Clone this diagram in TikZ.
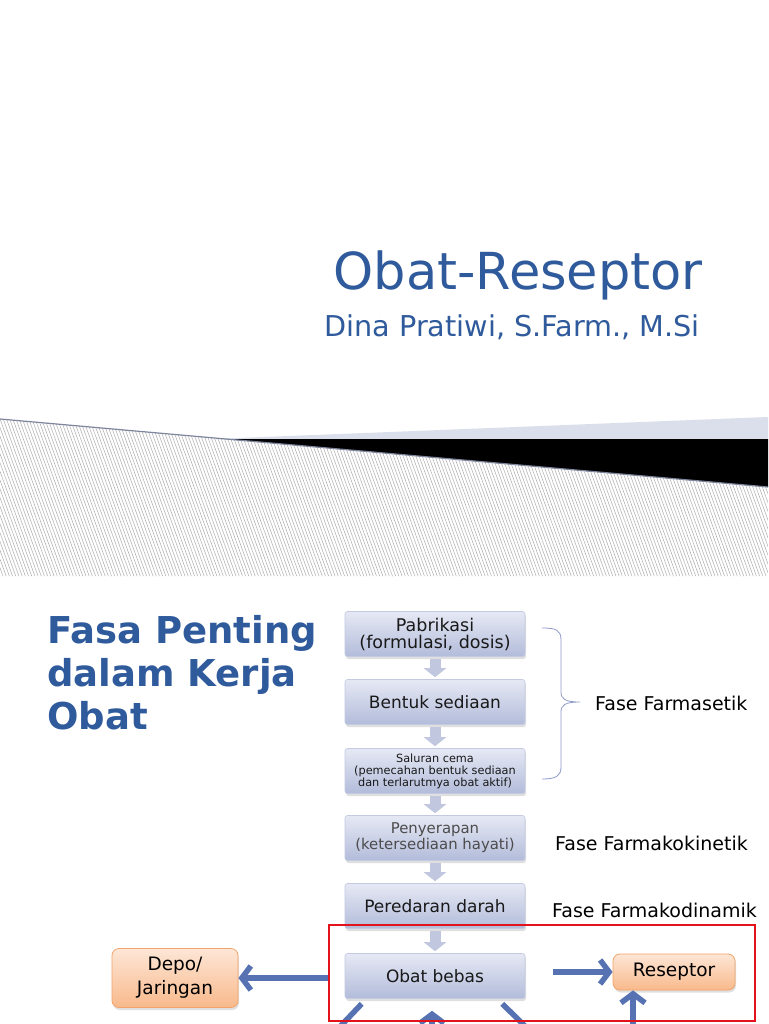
\documentclass[tikz,border=0pt]{standalone}
\usepackage{fontspec}
\setmainfont{DejaVu Sans}
\usepackage{xcolor}
\definecolor{slideblue}{HTML}{2F5A9B}
\definecolor{boxtop}{HTML}{E6E9F4}
\definecolor{boxbot}{HTML}{B2BBDA}
\definecolor{boxrule}{HTML}{C3CAE2}
\definecolor{flowarr}{HTML}{C0C7DE}
\definecolor{fatblue}{HTML}{5672B2}
\definecolor{orgtop}{HTML}{FDE6D6}
\definecolor{orgbot}{HTML}{F8B98B}
\definecolor{orgrule}{HTML}{F2A46A}
\definecolor{bracecol}{HTML}{8E9BC8}
\definecolor{wedge}{HTML}{DADFEB}
\definecolor{hatchline}{HTML}{7D869C}
\definecolor{redframe}{HTML}{E3121B}
\usetikzlibrary{arrows.meta, calc, shadows, patterns.meta}
\newcommand{\fsz}[2]{\fontsize{#1}{#2}\selectfont}

\tikzset{
  stepbox/.style={draw=boxrule, line width=0.6pt, rounded corners=2.5pt,
    top color=boxtop, bottom color=boxbot, minimum width=180pt,
    minimum height=45pt, align=center, text=black!90, font=\fsz{17}{17},
    drop shadow={shadow xshift=1pt, shadow yshift=-2.5pt, opacity=0.25}},
  orgbox/.style={draw=orgrule, line width=0.8pt, rounded corners=7pt,
    top color=orgtop, bottom color=orgbot, align=center, text=black,
    font=\fsz{18.5}{24},
    drop shadow={shadow xshift=1pt, shadow yshift=-2.5pt, opacity=0.25}},
  downarr/.style={draw=flowarr, line width=11pt,
    -{Triangle[width=22pt,length=9pt]}, shorten <=2pt, shorten >=2pt},
  fatarrow/.style={fatblue, line width=5.5pt,
    -{Straight Barb[length=9pt,width=24pt]}},
  fatline/.style={fatblue, line width=5.5pt},
  phase/.style={font=\fsz{19}{21}, anchor=west, inner sep=0pt},
}

\begin{document}
\begin{tikzpicture}[x=1pt, y=-1pt]
  \useasboundingbox (0,0) rectangle (768,1024);
  \fill[white] (0,0) rectangle (768,1024);

  % slide 1: title
  \node[font=\fsz{51}{60}, text=slideblue, anchor=base east, inner sep=0pt]
    (title) at (703,289) {Obat-Reseptor};
  \node[font=\fsz{28.7}{32}, text=slideblue, anchor=base east, inner sep=0pt]
    (author) at (700,336) {Dina Pratiwi, S.Farm., M.Si};

  % slide 1: hatched band and wedges
  \fill[pattern={Lines[angle=110,distance=3pt,line width=0.5pt]},
    pattern color=gray!65] (0,419) -- (768,487) -- (768,576) -- (0,576) -- cycle;
  \fill[wedge] (213,439) -- (768,417) -- (768,439) -- cycle;
  \fill[black] (226,439) -- (768,439) -- (768,487) -- cycle;
  \draw[hatchline, line width=1.2pt] (0,419) -- (768,487);

  % slide 2: heading
  \foreach \t [count=\i] in {Fasa Penting, dalam Kerja, Obat} {
    \node[font=\bfseries\fsz{37}{43}, text=slideblue, anchor=base west,
      inner sep=0pt] (head\i) at (47,600+43*\i) {\t};
  }

  % flow column
  \node[stepbox, font=\fsz{17.5}{17}] (pabrik) at (435,634)
    {Pabrikasi\\(formulasi, dosis)};
  \node[stepbox] (bentuk) at (435,702) {Bentuk sediaan};
  \node[stepbox, font=\fsz{11.3}{12}] (saluran) at (435,771)
    {Saluran cema\\(pemecahan bentuk sediaan\\dan terlarutmya obat aktif)};
  \node[stepbox, font=\fsz{14.9}{16}, text=black!70] (serap) at (435,838)
    {Penyerapan\\(ketersediaan hayati)};
  \node[stepbox] (darah) at (435,906) {Peredaran darah};
  \node[stepbox] (obat) at (435,976) {Obat bebas};
  \foreach \a/\b in {pabrik/bentuk, bentuk/saluran, saluran/serap,
                     serap/darah, darah/obat} {
    \draw[downarr] (\a) -- (\b);
  }

  % side boxes
  \node[orgbox, minimum width=126pt, minimum height=59pt] (depo) at (175,978)
    {Depo/\\Jaringan};
  \node[orgbox, minimum width=122pt, minimum height=36pt] (resep) at (674,972)
    {Reseptor};

  % phase labels
  \draw[bracecol, line width=0.8pt] (542,628) .. controls (556,628) and (561,630) .. (561,640)
    -- (561,692) .. controls (561,699) and (565,702) .. (580,702)
    .. controls (565,702) and (561,705) .. (561,712)
    -- (561,767) .. controls (561,776) and (556,779) .. (542,779);
  \node[phase] (farmasetik) at (595,703) {Fase Farmasetik};
  \node[phase] (kinetik) at (555,843) {Fase Farmakokinetik};
  \node[phase] (dinamik) at (552,910) {Fase Farmakodinamik};

  % blue arrows
  \coordinate (upfoot) at (633,1040);
  \coordinate (midfoot) at (432,1040);
  \coordinate (lfoot) at (333,1034);
  \coordinate (rfoot) at (533,1034);
  \draw[fatarrow, shorten <=16pt] (obat.west |- depo) -- (depo);
  \draw[fatarrow, shorten <=28pt] (obat.east |- resep) -- (resep);
  \draw[fatarrow] (upfoot) -- (upfoot |- resep.south);
  \draw[fatarrow, shorten >=12pt] (midfoot) -- (midfoot |- obat.south);
  \draw[fatline] ($(obat.south west)+(17,5)$) -- (lfoot);
  \draw[fatline] ($(obat.south east)+(-23,5)$) -- (rfoot);

  \draw[redframe, line width=2pt] (329,925) rectangle (755,1021);
\end{tikzpicture}
\end{document}
